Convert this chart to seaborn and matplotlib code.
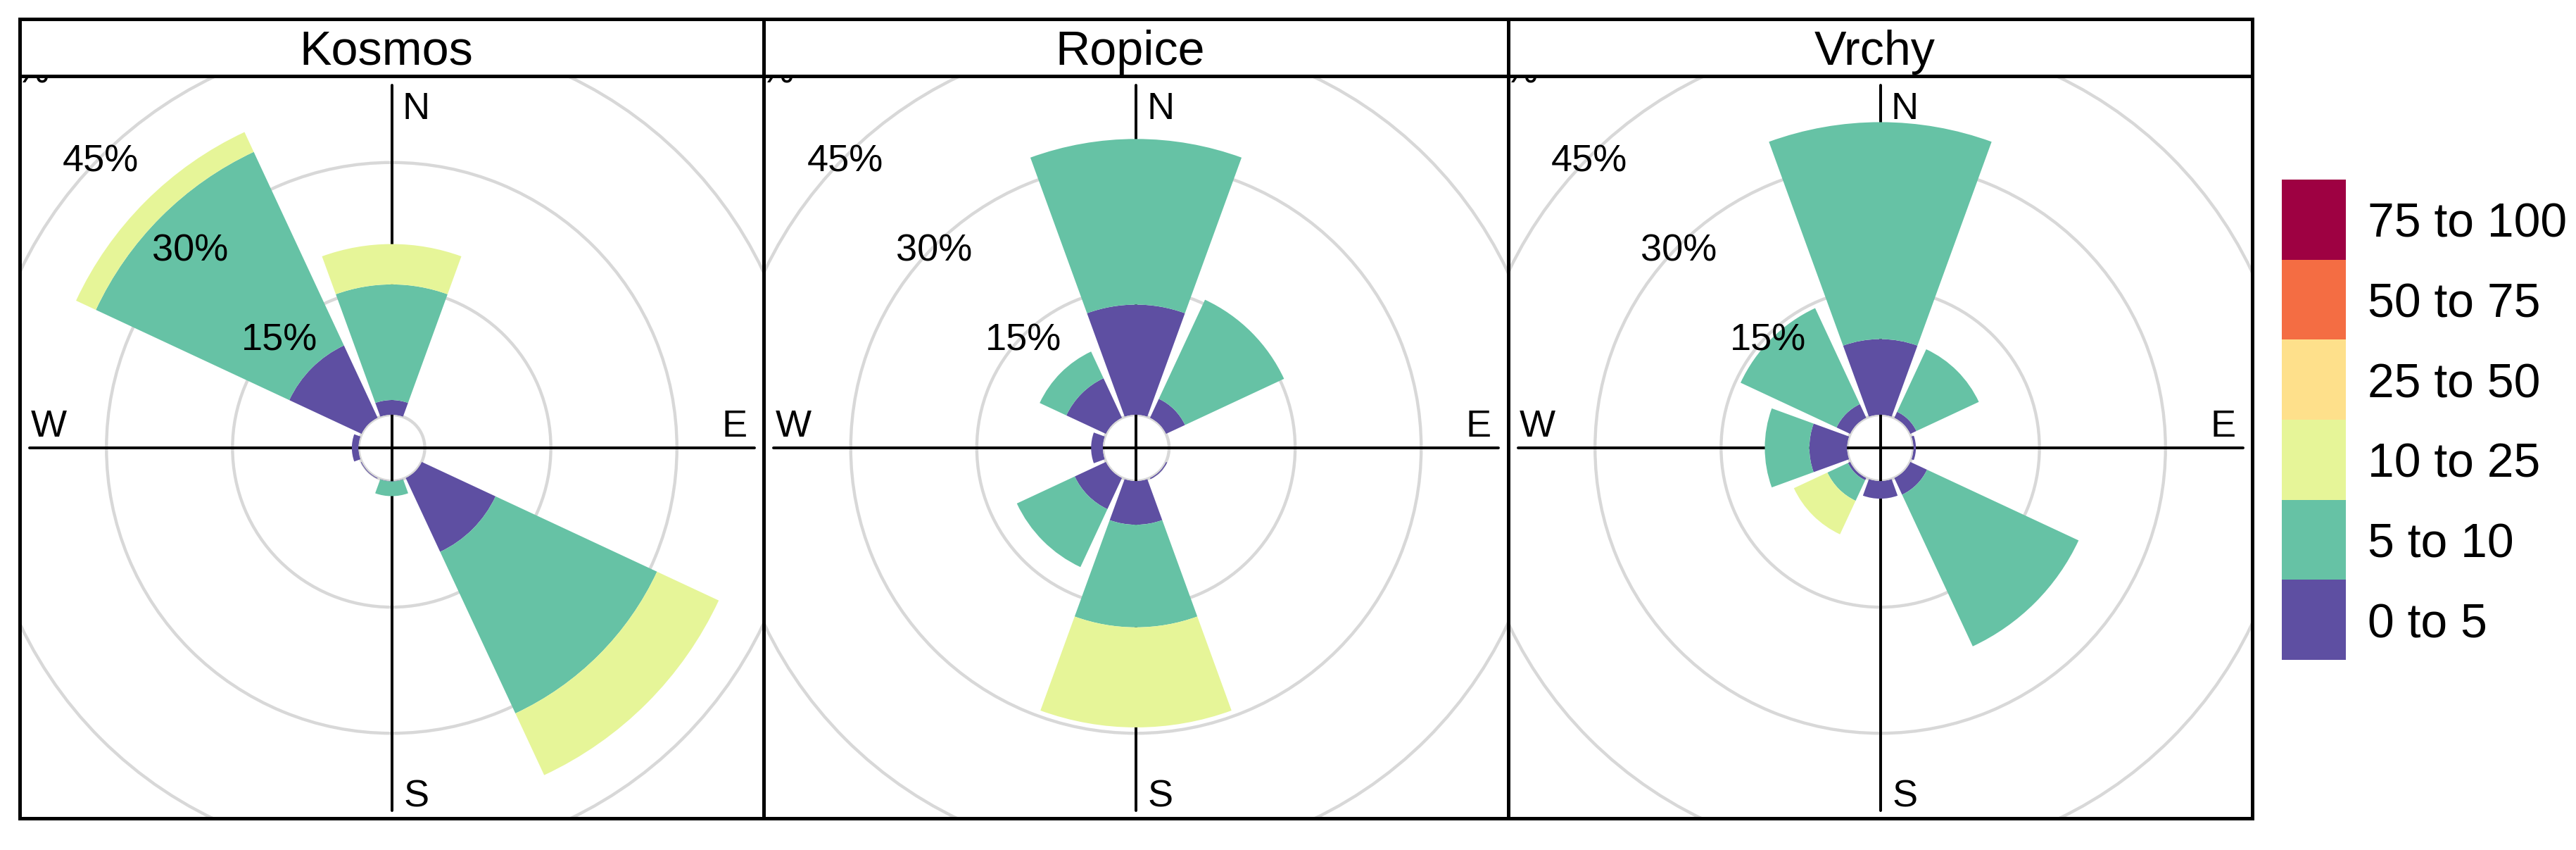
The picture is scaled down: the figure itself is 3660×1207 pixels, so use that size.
"""Wind roses for three sites, one panel per site with a shared speed legend."""

import numpy as np
import matplotlib
matplotlib.use("Agg")
import matplotlib.pyplot as plt
from matplotlib.colors import ListedColormap
from matplotlib.patches import Rectangle
import seaborn as sns

SITES = ["Kosmos", "Ropice", "Vrchy"]
DIRECTIONS = [0, 45, 90, 135, 180, 225, 270, 315]
SPEED_LABELS = ["75 to 100", "50 to 75", "25 to 50", "10 to 25", "5 to 10", "0 to 5"]
SPEED_COLORS = ["#9E0142", "#F46D43", "#FEE08B", "#E6F598", "#66C2A5", "#5E4FA2"]
RING_VALUES = [0, 15, 30, 45]
RING_LABELS = [15, 30, 45, 60]

# percent of time per direction (N, NE, E, SE, S, SW, W, NW), by speed class
kosmos_0_5 = [1.75, 0, 0, 9.7, 0.05, 0.1, 0.8, 9.5]
kosmos_5_10 = [13.75, 0, 0, 21.2, 1.75, 0, 0, 25.4]
kosmos_10_25 = [4.8, 0, 0, 8.1, 0, 0, 0, 2.6]

ropice_0_5 = [13.1, 2.5, 0, 0.15, 5.2, 4.1, 1.4, 5.2]
ropice_5_10 = [19.7, 13.0, 0, 0, 12.2, 7.6, 0, 3.5]
ropice_10_25 = [0, 0, 0, 0, 11.9, 0, 0, 0]

vrchy_0_5 = [9.0, 0.8, 0.3, 2.2, 2.1, 0.3, 4.5, 1.8]
vrchy_5_10 = [25.8, 8.2, 0, 19.9, 0, 2.7, 5.3, 12.6]
vrchy_10_25 = [0, 0, 0, 0, 0, 4.4, 0, 0]

SITE_SERIES = {
    "Kosmos": [kosmos_0_5, kosmos_5_10, kosmos_10_25],
    "Ropice": [ropice_0_5, ropice_5_10, ropice_10_25],
    "Vrchy": [vrchy_0_5, vrchy_5_10, vrchy_10_25],
}

# layout in pixels of the 3660x1207 output
W, H = 3660, 1207
PANEL_EDGES = [28, 1085, 2143, 3200]
STRIP_TOP, PANEL_TOP, PANEL_BOTTOM = 27, 108, 1162
CENTER_Y = 636
PX_PER_PCT = 11.94
HOLE = 3.94
RMAX = 60
SPOKE = 515 / PX_PER_PCT - HOLE


def fig_rect(left, top, right, bottom):
    return [left / W, 1 - bottom / H, (right - left) / W, (bottom - top) / H]


def draw_rose(fig, site, left, right):
    clip = Rectangle((left / W, 1 - PANEL_BOTTOM / H), (right - left) / W,
                     (PANEL_BOTTOM - PANEL_TOP) / H, transform=fig.transFigure)
    cx = (left + right) / 2
    half = (RMAX + HOLE) * PX_PER_PCT

    ax = fig.add_axes(fig_rect(cx - half, CENTER_Y - half, cx + half, CENTER_Y + half),
                      projection="polar")
    ax.patch.set_visible(False)
    ax.spines["polar"].set_visible(False)
    # matplotlib switches this one back on at draw time, so blank it instead
    ax.spines["inner"].set_edgecolor("none")
    ax.set_theta_zero_location("N")
    ax.set_theta_direction(-1)
    ax.set_rorigin(-HOLE)
    ax.set_rlim(0, RMAX)
    ax.set_xticks([])
    ax.set_yticks(RING_VALUES)
    ax.set_yticklabels([])
    ax.tick_params(axis="y", length=0)
    ax.grid(True, axis="y", color="#D8D8D8", lw=1.05)
    for tick in ax.yaxis.get_major_ticks():
        tick.gridline.set_clip_path(clip)

    for ends in ([0, 180], [90, 270]):
        spoke, = ax.plot(np.radians(ends), [SPOKE, SPOKE], color="black", lw=0.95, zorder=2)
        spoke.set_clip_path(clip)

    theta = np.radians(DIRECTIONS)
    bottom = np.zeros(len(DIRECTIONS))
    for values, color in zip(SITE_SERIES[site], SPEED_COLORS[::-1]):
        ax.bar(theta, values, width=np.radians(40), bottom=bottom, color=color,
               linewidth=0, zorder=3)
        bottom += np.array(values)

    for value in RING_LABELS:
        label = ax.annotate(f"{value}%", xy=(np.radians(315), value), xytext=(0, -7),
                            textcoords="offset pixels", fontsize=13, ha="center",
                            va="center", zorder=4, annotation_clip=False, clip_on=True)
        label.set_clip_path(clip)

    for name, angle, offset in [("N", 0, (35, -34)), ("E", 90, (-28, 30)),
                                ("S", 180, (35, 20)), ("W", 270, (28, 30))]:
        ax.annotate(name, xy=(np.radians(angle), SPOKE), xytext=offset,
                    textcoords="offset pixels", fontsize=13, ha="center", va="center",
                    zorder=4, annotation_clip=False)

    # frame and title strip go on top of the oversized polar axes
    frame = fig.add_axes(fig_rect(left, PANEL_TOP, right, PANEL_BOTTOM), facecolor="none", zorder=5)
    strip = fig.add_axes(fig_rect(left, STRIP_TOP, right, PANEL_TOP), facecolor="white", zorder=6)
    for box in (frame, strip):
        box.set_xticks([])
        box.set_yticks([])
        for spine in box.spines.values():
            spine.set_visible(True)
            spine.set_color("black")
            spine.set_linewidth(1.2)
    strip.text(0.4925, 0.42, site, fontsize=16.4, ha="center", va="center", transform=strip.transAxes)


def draw_legend(fig):
    lax = fig.add_axes(fig_rect(3242, 255, 3332.5, 937))
    levels = np.arange(len(SPEED_LABELS))[::-1].reshape(-1, 1)
    sns.heatmap(levels, cmap=ListedColormap(SPEED_COLORS[::-1]), cbar=False,
                xticklabels=False, yticklabels=SPEED_LABELS, ax=lax)
    lax.yaxis.tick_right()
    lax.tick_params(axis="y", length=0, pad=7.5, labelsize=16.3, labelcolor="black", labelrotation=0)


def main():
    sns.set_theme(style="white", font="Liberation Sans", rc={"text.color": "black"})
    fig = plt.figure(figsize=(W / 300, H / 300), dpi=300, facecolor="white")
    for site, left, right in zip(SITES, PANEL_EDGES[:-1], PANEL_EDGES[1:]):
        draw_rose(fig, site, left, right)
    draw_legend(fig)
    fig.savefig("out.png", dpi=300)


if __name__ == "__main__":
    main()
